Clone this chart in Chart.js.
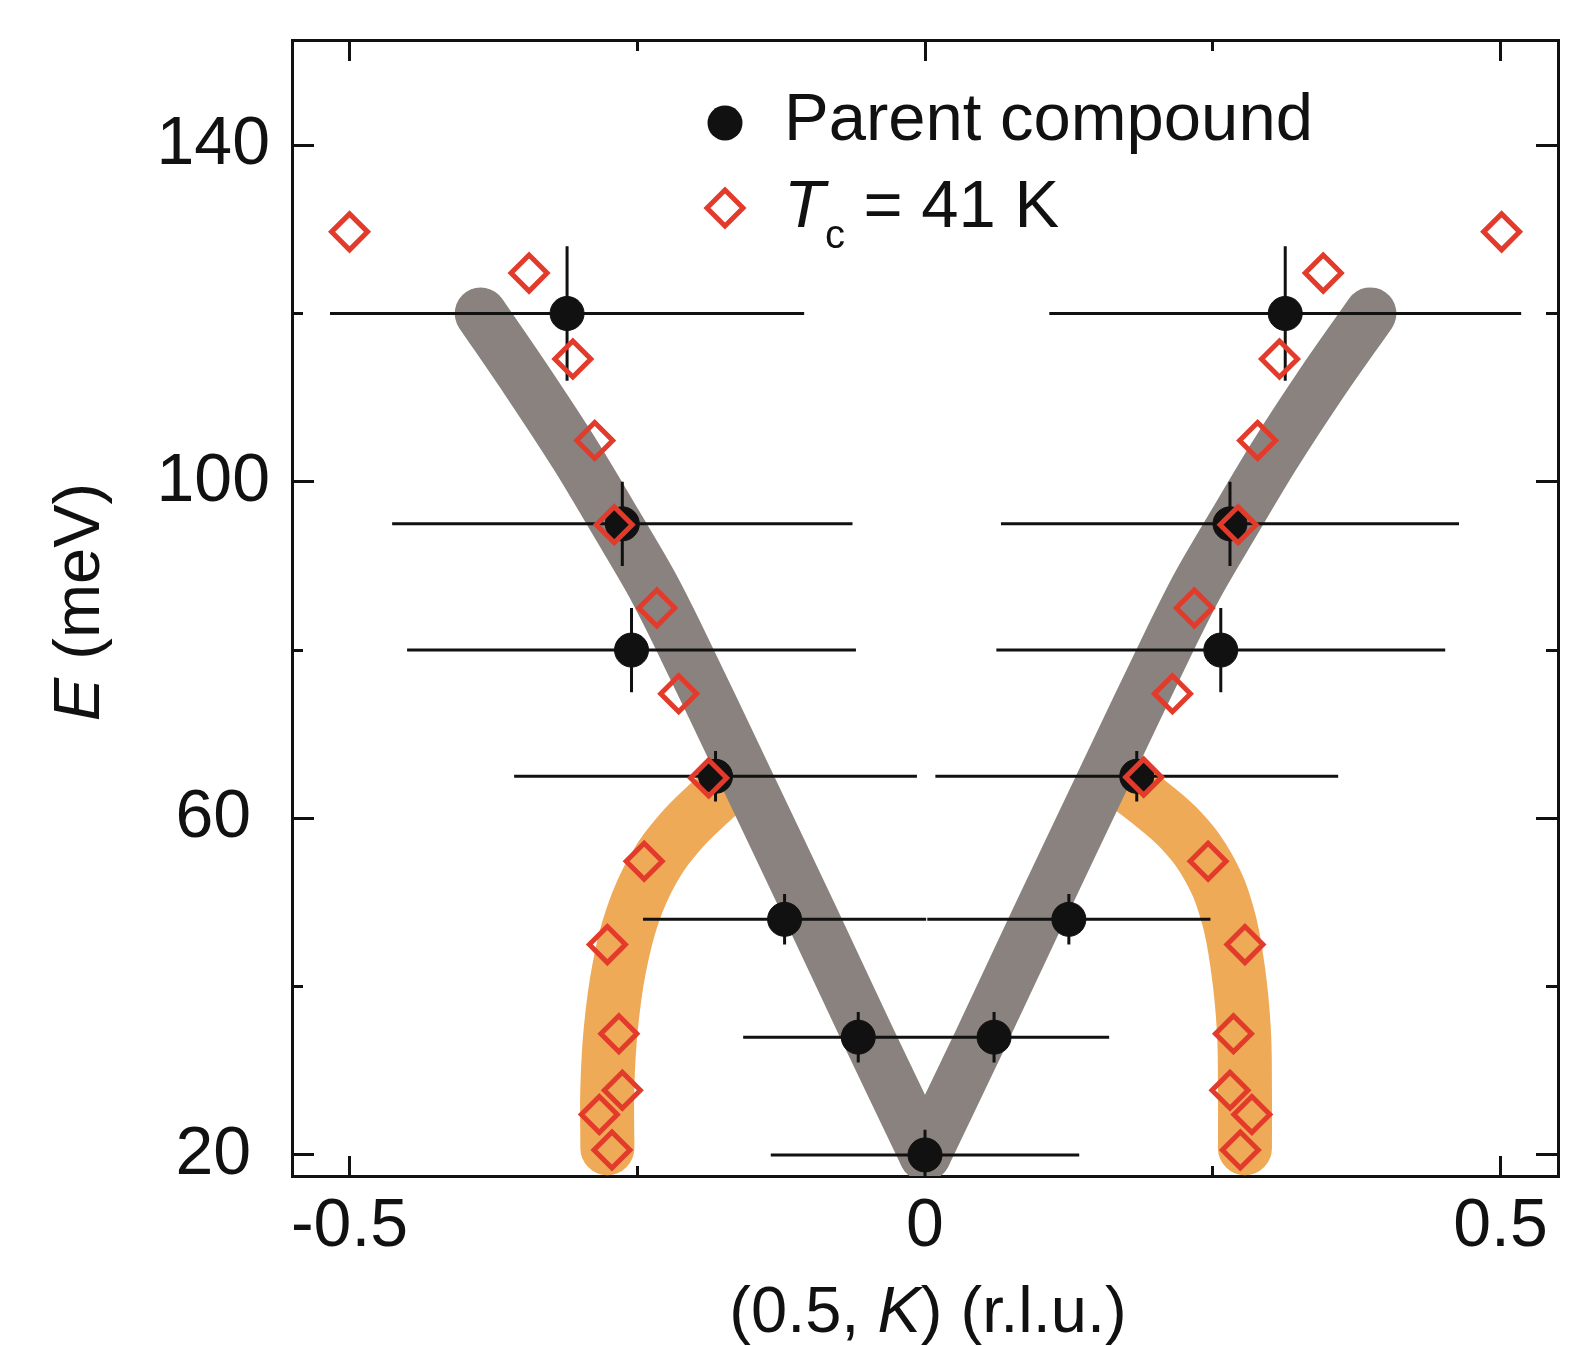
<!DOCTYPE html>
<html>
<head>
<meta charset="utf-8">
<script src="https://cdn.jsdelivr.net/npm/chart.js@4.4.1/dist/chart.umd.min.js"></script>
<style>
  body { margin: 0; background: #fff; }
  #wrap { width: 1573px; height: 1346px; }
</style>
</head>
<body>
<div id="wrap"><canvas id="grafico" width="1573" height="1346"></canvas></div>
<script>
// Parent compound: K (r.l.u.), E (meV) and error bars
const parentK    = [-0.311, -0.263, -0.255, -0.182, -0.122, -0.058, 0.000, 0.060, 0.125, 0.184, 0.257, 0.265, 0.313];
const parentE    = [120, 95, 80, 65, 48, 34, 20, 34, 48, 65, 80, 95, 120];
const parentKErr = [0.206, 0.200, 0.195, 0.175, 0.123, 0.100, 0.134, 0.100, 0.123, 0.175, 0.195, 0.199, 0.205];
const parentEErr = [8, 5, 5, 3, 3, 3, 3, 3, 3, 3, 5, 5, 8];

// Tc = 41 K sample
const tcK = [-0.500, -0.344, -0.306, -0.287, -0.270, -0.233, -0.214, -0.188, -0.244, -0.276, -0.266, -0.263, -0.283, -0.272,
              0.501,  0.346,  0.308,  0.289,  0.272,  0.234,  0.215,  0.190,  0.246,  0.278,  0.268,  0.265,  0.284,  0.274];
const tcE = [129.7, 124.8, 114.6, 104.9, 94.9, 85.0, 74.8, 64.8, 54.9, 45.0, 34.4, 27.7, 24.8, 20.6,
             129.7, 124.8, 114.6, 104.9, 94.9, 85.0, 74.8, 64.9, 54.9, 45.0, 34.4, 27.7, 24.8, 20.6];

// grey guide (V shaped dispersion), one arm each
const vLeftK  = [0.000, -0.049, -0.097, -0.156, -0.212, -0.238, -0.268, -0.303, -0.346, -0.386];
const vRightK = [0.000,  0.049,  0.097,  0.156,  0.212,  0.238,  0.268,  0.303,  0.346,  0.387];
const vE      = [20, 34, 48, 65, 81, 88, 95, 103, 112, 120];

// orange guides (lower branches)
const arcLeftK  = [-0.276, -0.276, -0.273, -0.266, -0.254, -0.236, -0.212, -0.186, -0.165];
const arcRightK = [0.278, 0.278, 0.277, 0.272, 0.263, 0.247, 0.223, 0.194, 0.170];
const arcE      = [20.8, 28, 35, 42, 48.5, 54, 58.5, 62, 64.5];

// axes
const xRange = [-0.55, 0.55];
const yRange = [17.5, 152.5];
const xMajorTicks = [-0.5, 0, 0.5];
const xMinorTicks = [-0.25, 0.25];
const yMajorTicks = [20, 60, 100, 140];
const yMinorTicks = [40, 80, 120];

const fontFamily = '"Liberation Sans", Arial, Helvetica, sans-serif';
const ink = '#111111';
const red = '#e23b2b';
const grey = '#8a827e';
const orange = '#efaa57';

function points(ks, es) {
    return ks.map((k, i) => ({ x: k, y: es[i] }));
}

function errorBarData() {
    const pts = [];
    const gap = { x: NaN, y: NaN };
    parentK.forEach((k, i) => {
        const e = parentE[i];
        pts.push({ x: k - parentKErr[i], y: e }, { x: k + parentKErr[i], y: e }, gap);
        pts.push({ x: k, y: e - parentEErr[i] }, { x: k, y: e + parentEErr[i] }, gap);
    });
    return pts;
}

function guide(label, ks, es, color, width, tension) {
    return {
        label: label,
        data: points(ks, es),
        borderColor: color,
        borderWidth: width,
        borderCapStyle: 'round',
        borderJoinStyle: 'round',
        pointRadius: 0,
        tension: tension,
        clip: 0
    };
}

function setTicks(values) {
    return function (scale) { scale.ticks = values.map(v => ({ value: v })); };
}

function fixSize(prop, size) {
    return function (scale) {
        scale[prop] = size;
        scale.paddingTop = 0; scale.paddingBottom = 0;
        scale.paddingLeft = 0; scale.paddingRight = 0;
    };
}

// one axis = one side of the frame, major or minor ticks (pointing inwards)
function axis(position, range, ticks, tickLength, weight, size, withBorder, labels) {
    const horizontal = position === 'top' || position === 'bottom';
    return {
        type: 'linear',
        position: position,
        axis: horizontal ? 'x' : 'y',
        min: range[0],
        max: range[1],
        weight: weight,
        z: 1,
        afterBuildTicks: setTicks(ticks),
        afterFit: fixSize(horizontal ? 'height' : 'width', size),
        border: withBorder ? { display: true, color: ink, width: 3 } : { display: false },
        grid: { drawOnChartArea: false, drawTicks: true, color: ink, lineWidth: 3, tickLength: tickLength },
        ticks: labels ? Object.assign({
            display: true,
            color: ink,
            autoSkip: false,
            maxRotation: 0,
            font: { family: fontFamily, size: 68 },
            callback: v => String(v)
        }, labels) : { display: false }
    };
}

function partFont(p) {
    return (p.italic ? 'italic ' : '') + p.size + 'px ' + fontFamily;
}

function drawParts(ctx, parts, x, y, align) {
    const widths = parts.map(p => { ctx.font = partFont(p); return ctx.measureText(p.text).width; });
    const total = widths.reduce((s, w) => s + w, 0);
    let cx = align === 'center' ? x - total / 2 : x;
    ctx.textAlign = 'left';
    ctx.textBaseline = 'alphabetic';
    ctx.fillStyle = ink;
    parts.forEach((p, i) => {
        ctx.font = partFont(p);
        ctx.fillText(p.text, cx, y + (p.dy || 0));
        cx += widths[i];
    });
}

// axis titles and legend (with italic / subscript parts)
const textoPlugin = {
    id: 'textoRico',
    afterDraw(chart) {
        const ctx = chart.ctx;
        const a = chart.chartArea;
        ctx.save();

        drawParts(ctx, [
            { text: '(0.5, ', size: 65 },
            { text: 'K', size: 65, italic: true },
            { text: ') (r.l.u.)', size: 65 }
        ], chart.scales.x.getPixelForValue(0) + 3, a.bottom + 156, 'center');

        ctx.save();
        ctx.translate(99, (a.top + a.bottom) / 2 - 6);
        ctx.rotate(-Math.PI / 2);
        drawParts(ctx, [
            { text: 'E', size: 65, italic: true },
            { text: ' (meV)', size: 65 }
        ], 0, 0, 'center');
        ctx.restore();

        // legend
        const mx = a.left + 433;
        const tx = a.left + 492;
        ctx.fillStyle = ink;
        Chart.helpers.drawPoint(ctx, { pointStyle: 'circle', radius: 17.5, borderWidth: 0, rotation: 0 }, mx, a.top + 83);
        drawParts(ctx, [{ text: 'Parent compound', size: 67 }], tx, a.top + 100, 'left');

        ctx.fillStyle = 'rgba(0,0,0,0)';
        ctx.strokeStyle = red;
        ctx.lineWidth = 5;
        Chart.helpers.drawPoint(ctx, { pointStyle: 'rectRot', radius: 18, borderWidth: 5, rotation: 0 }, mx, a.top + 168);
        drawParts(ctx, [
            { text: 'T', size: 67, italic: true },
            { text: 'c', size: 40, dy: 21 },
            { text: ' = 41 K', size: 67 }
        ], tx, a.top + 187, 'left');

        ctx.restore();
    }
};

const ctx = document.getElementById('grafico').getContext('2d');

new Chart(ctx, {
    type: 'line',
    data: {
        datasets: [
            {
                label: 'Tc = 41 K',
                data: points(tcK, tcE),
                showLine: false,
                pointStyle: 'rectRot',
                pointRadius: 18,
                pointBorderWidth: 5,
                pointBorderColor: red,
                pointBackgroundColor: 'rgba(0,0,0,0)'
            },
            {
                label: 'Parent compound',
                data: points(parentK, parentE),
                showLine: false,
                pointStyle: 'circle',
                pointRadius: 17,
                pointBorderWidth: 1,
                pointBorderColor: ink,
                pointBackgroundColor: ink
            },
            {
                label: 'error bars',
                data: errorBarData(),
                borderColor: ink,
                borderWidth: 3,
                pointRadius: 0,
                spanGaps: false
            },
            guide('guide V left', vLeftK, vE, grey, 52, 0.3),
            guide('guide V right', vRightK, vE, grey, 52, 0.3),
            guide('guide left', arcLeftK, arcE, orange, 54, 0.4),
            guide('guide right', arcRightK, arcE, orange, 54, 0.4)
        ]
    },
    options: {
        responsive: false,
        animation: false,
        devicePixelRatio: 1,
        events: [],
        layout: { padding: 0, autoPadding: false },
        plugins: {
            legend: { display: false },
            tooltip: { enabled: false }
        },
        scales: {
            x: axis('bottom', xRange, xMajorTicks, -20, 1, 170, true, { padding: 30 }),
            xMinor: axis('bottom', xRange, xMinorTicks, -10, 0, 0, false, null),
            xTop: axis('top', xRange, xMajorTicks, -21, 1, 40, true, null),
            xTopMinor: axis('top', xRange, xMinorTicks, -11, 0, 0, false, null),
            y: axis('left', yRange, yMajorTicks, -22, 1, 292, true, { padding: 44, crossAlign: 'center' }),
            yMinor: axis('left', yRange, yMinorTicks, -11, 0, 0, false, null),
            yRight: axis('right', yRange, yMajorTicks, -22, 1, 15, true, null),
            yRightMinor: axis('right', yRange, yMinorTicks, -12, 0, 0, false, null)
        }
    },
    plugins: [textoPlugin]
});
</script>
</body>
</html>
